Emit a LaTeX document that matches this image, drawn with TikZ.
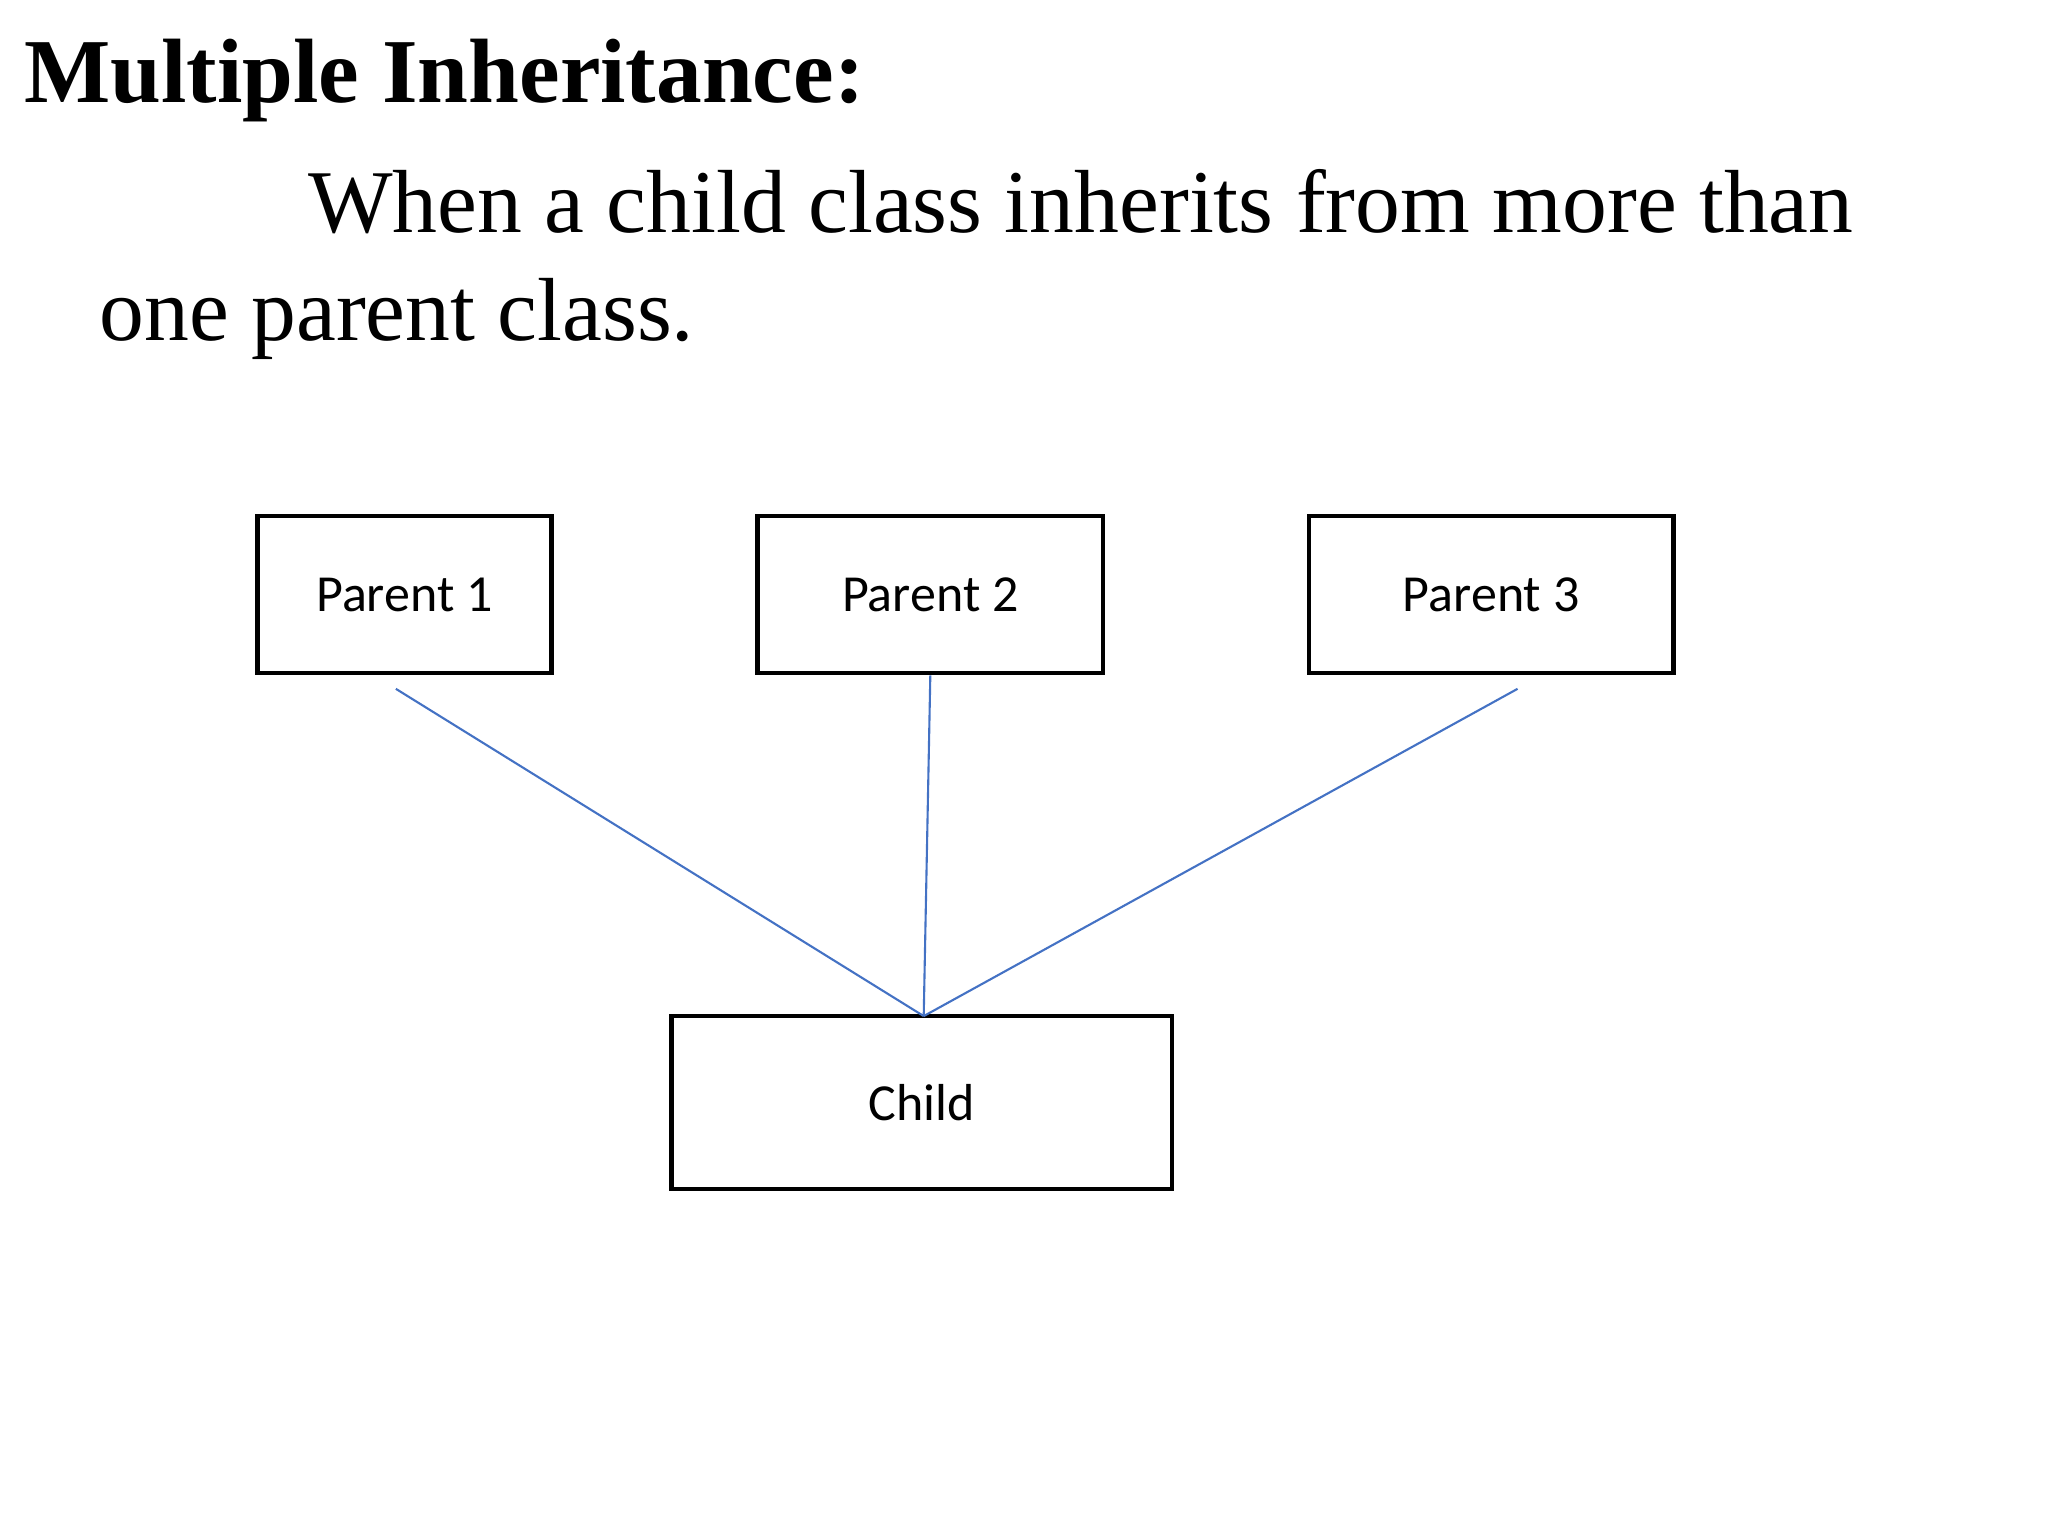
\documentclass[tikz,border=0pt]{standalone}
\usepackage{fontspec}
\setmainfont{Liberation Serif}
\newfontfamily\boxfont{Carlito}
\definecolor{linkblue}{RGB}{68,114,196}
\begin{document}
\begin{tikzpicture}[x=0.0132cm,y=-0.0132cm,
    classbox/.style={rectangle,draw,line width=1.3pt,font=\boxfont\fontsize{14.8}{18}\selectfont},
    link/.style={draw=linkblue,line width=0.6pt}]
    \useasboundingbox (0,0) rectangle (1552,1164);
    \node[anchor=base west,inner sep=0,font=\bfseries\fontsize{26}{31}\selectfont] (title) at (18,78) {Multiple Inheritance:} ;
    \node[anchor=base west,inner sep=0,font=\fontsize{25.5}{31}\selectfont] (line1) at (233,176) {When a child class inherits from more than} ;
    \node[anchor=base west,inner sep=0,font=\fontsize{25.5}{31}\selectfont] (line2) at (75,258) {one parent class.} ;

    \node[classbox,minimum width=223*0.0132cm,minimum height=119*0.0132cm] (p1) at (306.5,450.5) {Parent 1} ;
    \node[classbox,minimum width=262*0.0132cm,minimum height=119*0.0132cm] (p2) at (705,450.5) {Parent 2} ;
    \node[classbox,minimum width=276*0.0132cm,minimum height=119*0.0132cm] (p3) at (1130,450.5) {Parent 3} ;
    \node[classbox,minimum width=379*0.0132cm,minimum height=131*0.0132cm] (child) at (698.5,835.5) {Child} ;

    \coordinate (p1_end) at (300,522) ;
    \coordinate (p3_end) at (1150,522) ;
    \coordinate (child_top) at (700,770) ;

    \draw[link] (p1_end) -- (child_top) ;
    \draw[link] (p2.south) -- (child_top) ;
    \draw[link] (p3_end) -- (child_top) ;
\end{tikzpicture}
\end{document}
